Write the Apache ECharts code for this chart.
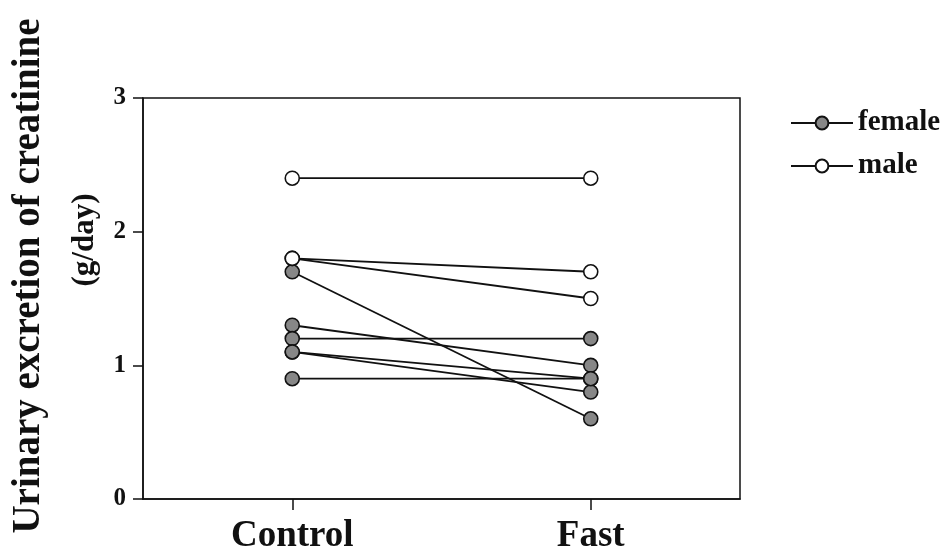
<!DOCTYPE html>
<html>
<head>
<meta charset="utf-8">
<script src="https://cdn.jsdelivr.net/npm/echarts@6/dist/echarts.min.js"></script>
<style>
html,body{margin:0;padding:0;background:#fff;}
#chart{width:944px;height:555px;}
</style>
</head>
<body>
<div id="chart"></div>
<script>
// ---- data ----
var categories = ['Control', 'Fast'];
var femaleControl = [1.7, 1.3, 1.2, 1.1, 1.1, 0.9];
var femaleFast    = [0.6, 1.0, 1.2, 0.9, 0.8, 0.9];
var maleControl   = [2.4, 1.8, 1.8];
var maleFast      = [2.4, 1.7, 1.5];
var groupNames = ['female', 'male'];
var yMin = 0, yMax = 3, yStep = 1;
var titleLine1 = 'Urinary excretion of creatinine';
var titleLine2 = '(g/day)';

var FONT = '"Liberation Serif", "Times New Roman", serif';
var INK = '#111';

function makeSeries(name, ctrl, fast, fill) {
  var out = [];
  for (var i = 0; i < ctrl.length; i++) {
    out.push({
      name: name,
      type: 'line',
      data: [ctrl[i], fast[i]],
      symbol: 'circle',
      symbolSize: 14,
      showAllSymbol: true,
      lineStyle: { color: INK, width: 1.8 },
      itemStyle: { color: fill, borderColor: INK, borderWidth: 1.6 },
      emphasis: { disabled: true },
      animation: false
    });
  }
  return out;
}

var series = makeSeries(groupNames[0], femaleControl, femaleFast, '#878787')
  .concat(makeSeries(groupNames[1], maleControl, maleFast, '#ffffff'));

var chart = echarts.init(document.getElementById('chart'), null, { renderer: 'canvas' });
chart.setOption({
  backgroundColor: '#fff',
  animation: false,
  grid: {
    left: 143, right: 204, top: 98, bottom: 55,
    show: true, borderColor: INK, borderWidth: 1.5, backgroundColor: 'transparent'
  },
  legend: {
    data: groupNames,
    orient: 'vertical',
    left: 785,
    top: 103,
    itemWidth: 62,
    itemHeight: 16,
    itemGap: 13,
    textStyle: { fontFamily: FONT, fontWeight: 'bold', fontSize: 29, color: INK, lineHeight: 30 }
  },
  xAxis: {
    type: 'category',
    data: categories,
    boundaryGap: true,
    axisLine: { show: true, lineStyle: { color: INK, width: 1.5 } },
    axisTick: { show: true, alignWithLabel: true, length: 11, lineStyle: { color: INK, width: 1.5 } },
    axisLabel: { margin: 19, fontFamily: FONT, fontWeight: 'bold', fontSize: 37, color: INK },
    splitLine: { show: false }
  },
  yAxis: {
    type: 'value',
    min: yMin, max: yMax, interval: yStep,
    axisLine: { show: true, lineStyle: { color: INK, width: 1.5 } },
    axisTick: { show: true, length: 10, lineStyle: { color: INK, width: 1.5 } },
    axisLabel: { margin: 17, fontFamily: FONT, fontWeight: 'bold', fontSize: 25, color: INK },
    splitLine: { show: false }
  },
  graphic: [
    {
      type: 'text', x: 29, y: 276, rotation: Math.PI / 2,
      style: { text: titleLine1, fontFamily: FONT, fontWeight: 'bold', fontSize: 39, fill: INK, align: 'center', verticalAlign: 'middle' }
    },
    {
      type: 'text', x: 85, y: 240, rotation: Math.PI / 2,
      style: { text: titleLine2, fontFamily: FONT, fontWeight: 'bold', fontSize: 31, fill: INK, align: 'center', verticalAlign: 'middle' }
    }
  ],
  series: series
});
</script>
</body>
</html>
